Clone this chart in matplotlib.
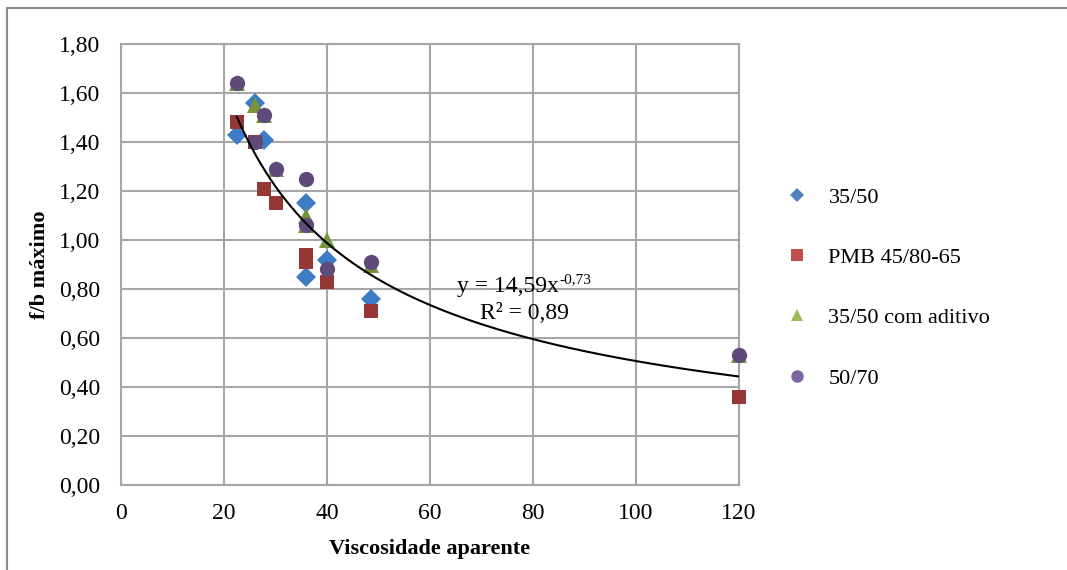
import numpy as np
import matplotlib
matplotlib.use("Agg")
import matplotlib.pyplot as plt
from matplotlib.lines import Line2D

plt.rcParams['font.family'] = ['Liberation Serif', 'DejaVu Serif']

# Data: apparent viscosity vs. maximum f/b for each binder
series_names = ["35/50", "PMB 45/80-65", "35/50 com aditivo", "50/70"]

x_3550 = [22.5, 26.0, 27.7, 36.0, 36.0, 40.0, 48.5]
y_3550 = [1.43, 1.56, 1.41, 1.15, 0.85, 0.92, 0.76]

x_pmb = [22.5, 26.0, 27.7, 30.0, 36.0, 36.0, 40.0, 48.5, 120.0]
y_pmb = [1.48, 1.40, 1.21, 1.15, 0.94, 0.91, 0.83, 0.71, 0.36]

x_adit = [22.5, 26.0, 27.7, 30.0, 36.0, 36.0, 40.0, 48.5, 120.0]
y_adit = [1.64, 1.55, 1.51, 1.29, 1.10, 1.06, 1.00, 0.90, 0.53]

x_5070 = [22.5, 26.0, 27.7, 30.0, 36.0, 36.0, 40.0, 48.5, 120.0]
y_5070 = [1.64, 1.40, 1.51, 1.29, 1.25, 1.06, 0.88, 0.91, 0.53]

# Power-law trend line y = a * x^b
fit_a = 14.59
fit_b = -0.73
fit_r2 = 0.89
fit_xmin, fit_xmax = 22.5, 120.0

x_ticks = [0, 20, 40, 60, 80, 100, 120]
y_ticks = [0.0, 0.2, 0.4, 0.6, 0.8, 1.0, 1.2, 1.4, 1.6, 1.8]


def br(v, nd=2):
    return f"{v:.{nd}f}".replace(".", ",")


W, H = 1067, 570
fig = plt.figure(figsize=(W / 100, H / 100), dpi=100)
ax = fig.add_axes([121 / W, (H - 485) / H, (739 - 121) / W, (485 - 44) / H])

plot_colors = ["#3F7CC8", "#953735", "#77933C", "#604A7B"]
legend_colors = ["#4F81BD", "#C0504D", "#9BBB59", "#8064A2"]
markers = ["D", "s", "^", "o"]
sizes = [10.5, 10.5, 11, 11]
data = [(x_3550, y_3550), (x_pmb, y_pmb), (x_adit, y_adit), (x_5070, y_5070)]

for i, (xs, ys) in enumerate(data):
    ax.plot(xs, ys, linestyle="none", marker=markers[i], markersize=sizes[i],
            color=plot_colors[i], markeredgewidth=0, zorder=3 + i, clip_on=False)

xf = np.linspace(fit_xmin, fit_xmax, 300)
ax.plot(xf, fit_a * xf ** fit_b, color="black", linewidth=1.5, zorder=10)

# trend-line equation with a raised exponent
eq_main = ax.text(65.3, 0.786, "y = " + br(fit_a) + "x", fontsize=17,
                  ha="left", va="baseline", zorder=11)
ax.annotate(br(fit_b), xy=(1.0, 0.0), xycoords=eq_main,
            xytext=(0, 10), textcoords="offset points",
            fontsize=11, ha="left", va="baseline", zorder=11)
ax.text(69.7, 0.676, "R² = " + br(fit_r2), fontsize=17,
        ha="left", va="baseline", zorder=11)

ax.set_xlim(0, 120)
ax.set_ylim(0, 1.8)
ax.set_xticks(x_ticks)
ax.set_yticks(y_ticks)
ax.set_xticklabels([str(v) for v in x_ticks])
ax.set_yticklabels([br(v) for v in y_ticks])
ax.tick_params(length=0, labelsize=17)
ax.tick_params(axis="y", pad=15)
ax.tick_params(axis="x", pad=13)
ax.grid(True, color="#A6A6A6", linewidth=1.5)
ax.set_axisbelow(True)
for s in ax.spines.values():
    s.set_color("#A6A6A6")
    s.set_linewidth(1.5)

ax.set_xlabel("Viscosidade aparente", fontsize=16, fontweight="bold", labelpad=11)
ax.set_ylabel("f/b máximo", fontsize=16, fontweight="bold", labelpad=6)

handles = [Line2D([], [], linestyle="none", marker=markers[i],
                  markersize=[7, 8, 9, 9][i], color=legend_colors[i],
                  markeredgewidth=0) for i in range(4)]
fig.legend(handles, series_names, loc="upper left",
           bbox_to_anchor=(764 / W, 1 - 167 / H), frameon=False,
           fontsize=16, labelspacing=1.79, handletextpad=0.8, handlelength=1.2)

# outer chart frame (left and top edges)
fig.add_artist(Line2D([7 / W, 7 / W], [0, 1 - 8 / H], transform=fig.transFigure,
                      color="#8C8C8C", linewidth=1.5))
fig.add_artist(Line2D([7 / W, 1], [1 - 8 / H, 1 - 8 / H], transform=fig.transFigure,
                      color="#8C8C8C", linewidth=1.5))

fig.savefig("out.png", dpi=100, facecolor="white")
